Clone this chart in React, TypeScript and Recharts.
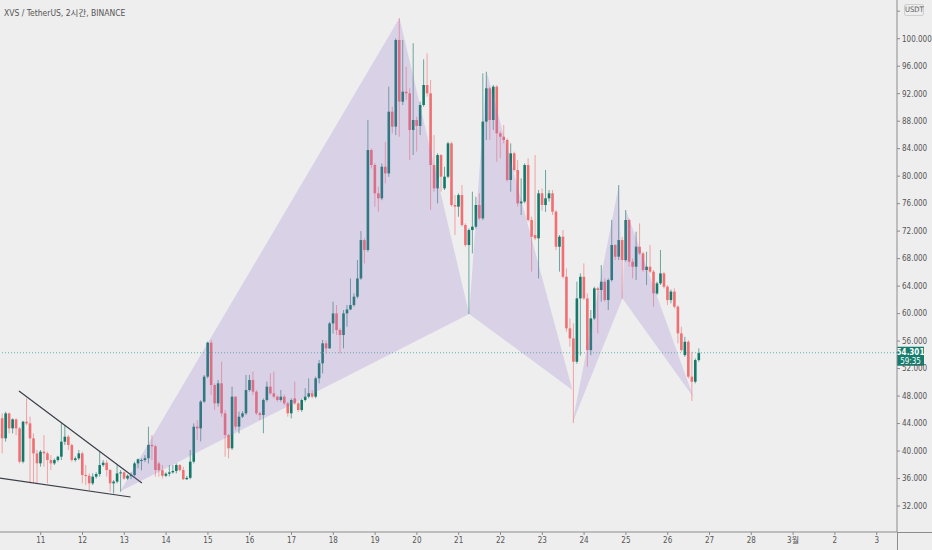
import React from "react";
import { ComposedChart, Bar, Scatter, XAxis, YAxis, ReferenceLine } from "recharts";

// XVS / USDT, 2h candles starting Feb 10 00:00 (12 per day)
const opens = [
  43.3, 44.76, 41.85, 45.48, 43.3, 44.61, 43.3, 38.45, 44.27, 44.03, 41.85, 39.66,
  38.21, 39.91, 39.66, 38.69, 38.21, 38.69, 39.18, 41.36, 42.09, 40.88, 38.69, 38.93,
  39.66, 36.51, 36.4, 35.3, 36.27, 36.65, 37.96, 38.3, 37.24, 35.3, 35.55, 36.75,
  36.9, 36.0, 36.4, 36.5, 38.2, 38.6, 38.7, 38.95, 40.9, 40.7, 38.2, 37.2,
  36.4, 36.7, 36.9, 37.1, 37.96, 37.24, 35.9, 36.1, 38.45, 43.55, 43.3, 47.19,
  50.82, 55.77, 49.61, 46.94, 49.85, 45.49, 42.33, 40.4, 47.91, 43.55, 45.0, 45.49,
  48.88, 50.34, 48.64, 45.49, 45.24, 47.43, 49.37, 48.4, 47.91, 47.43, 47.91, 46.94,
  45.49, 47.67, 46.94, 45.97, 47.43, 47.91, 48.4, 47.91, 50.58, 52.76, 55.67, 54.94,
  58.57, 60.03, 57.6, 56.88, 60.03, 60.6, 61.24, 62.46, 65.12, 70.7, 69.25, 83.8,
  81.62, 77.5, 76.77, 81.37, 80.4, 89.38, 87.2, 99.81, 90.84, 92.29, 92.05, 86.71,
  88.17, 87.3, 90.35, 93.26, 92.05, 81.62, 78.22, 83.07, 78.22, 79.92, 84.77, 75.8,
  75.56, 77.25, 72.89, 69.98, 72.16, 72.65, 75.8, 73.86, 87.93, 92.78, 88.17, 93.02,
  86.23, 85.74, 85.26, 79.44, 83.32, 80.89, 76.04, 76.3, 81.62, 73.62, 71.43, 70.95,
  77.5, 75.8, 76.77, 77.5, 74.83, 69.73, 71.19, 65.36, 57.85, 56.39, 53.0, 62.21,
  65.36, 62.21, 54.69, 59.3, 63.67, 63.43, 64.64, 61.97, 64.88, 69.98, 68.28, 70.7,
  67.79, 73.62, 67.55, 66.82, 69.73, 68.76, 66.34, 66.82, 66.1, 62.94, 64.4, 65.85,
  63.91, 61.97, 63.2, 61.0, 57.12, 53.96, 55.9, 50.82, 50.09, 53.24,
];

const highs = [
  45.2, 45.48, 45.73, 45.6, 44.76, 44.76, 43.5, 44.4, 47.67, 45.0, 42.57, 40.15,
  40.15, 42.33, 39.91, 39.42, 38.93, 39.3, 44.03, 43.78, 42.33, 41.1, 39.2, 40.15,
  39.91, 37.96, 36.75, 36.75, 36.9, 39.91, 38.69, 38.69, 37.4, 35.78, 37.96, 37.24,
  37.0, 36.6, 36.9, 38.45, 38.93, 38.93, 39.4, 43.54, 42.33, 40.9, 38.45, 37.96,
  36.9, 37.96, 37.96, 38.21, 38.1, 37.72, 36.4, 40.15, 44.03, 44.5, 47.4, 51.06,
  55.92, 56.16, 49.85, 50.34, 53.01, 45.97, 42.5, 49.37, 47.95, 45.73, 45.8, 51.07,
  51.07, 51.55, 48.88, 45.73, 47.67, 50.1, 51.3, 51.55, 48.1, 48.88, 48.2, 47.19,
  47.67, 50.1, 47.2, 47.6, 49.13, 50.58, 48.88, 50.82, 53.25, 56.16, 56.1, 58.8,
  61.73, 61.24, 57.85, 60.52, 61.24, 65.12, 62.94, 67.79, 72.0, 70.94, 88.17, 84.0,
  81.86, 78.46, 81.86, 85.0, 93.02, 90.1, 100.05, 103.0, 99.81, 95.93, 92.78, 99.33,
  88.65, 90.84, 97.0, 97.87, 93.99, 85.98, 83.32, 83.2, 81.38, 85.0, 85.0, 77.25,
  77.5, 78.7, 73.13, 72.4, 77.74, 77.0, 77.5, 94.96, 95.2, 93.02, 93.26, 93.26,
  86.5, 87.44, 85.5, 84.77, 83.56, 82.35, 79.68, 81.86, 82.59, 74.1, 83.07, 77.98,
  78.2, 80.9, 77.98, 77.98, 75.07, 71.43, 72.16, 66.58, 59.3, 58.6, 64.64, 65.85,
  67.3, 62.94, 60.52, 63.91, 63.91, 67.06, 65.12, 65.12, 73.62, 70.1, 78.7, 71.19,
  75.07, 73.8, 68.04, 71.92, 73.13, 69.0, 69.0, 69.98, 66.34, 64.64, 69.25, 66.1,
  64.16, 63.5, 63.67, 61.24, 58.09, 56.63, 56.15, 54.45, 53.48, 54.94,
];

const lows = [
  42.6, 39.66, 41.36, 42.57, 42.57, 42.33, 38.2, 38.2, 43.8, 35.3, 35.3, 35.3,
  37.72, 37.72, 35.3, 37.24, 37.96, 38.45, 38.69, 40.88, 40.15, 38.45, 38.45, 38.69,
  35.3, 35.05, 34.33, 35.05, 36.0, 36.27, 37.72, 36.27, 34.08, 33.84, 35.3, 34.08,
  35.8, 35.8, 35.9, 36.27, 37.5, 37.2, 38.4, 38.2, 38.7, 36.27, 36.27, 36.0,
  36.2, 36.3, 36.7, 36.75, 37.0, 35.78, 35.78, 35.9, 38.2, 41.6, 41.4, 47.0,
  50.58, 48.16, 45.97, 46.46, 45.0, 39.18, 38.94, 40.15, 43.06, 42.58, 44.8, 45.24,
  48.64, 48.16, 45.24, 44.52, 42.58, 47.19, 48.16, 47.67, 47.2, 47.19, 46.7, 45.0,
  44.76, 46.7, 45.7, 45.7, 47.19, 47.67, 47.67, 47.67, 49.85, 51.31, 54.2, 54.9,
  57.1, 56.88, 54.21, 54.94, 58.09, 60.5, 61.0, 62.2, 64.9, 67.3, 69.0, 81.13,
  75.56, 74.83, 76.5, 78.95, 79.9, 86.23, 85.98, 85.74, 90.35, 91.08, 82.35, 83.07,
  83.56, 85.98, 90.11, 91.56, 75.07, 77.74, 76.04, 77.74, 77.98, 79.7, 75.56, 71.43,
  74.1, 72.64, 69.73, 59.94, 68.76, 72.4, 73.6, 73.6, 85.26, 85.26, 86.71, 82.1,
  82.6, 84.77, 79.2, 77.74, 80.65, 75.56, 74.34, 76.04, 73.37, 66.1, 70.7, 65.12,
  75.0, 74.8, 76.3, 74.34, 69.25, 66.1, 65.1, 57.36, 55.2, 44.07, 52.7, 53.9,
  61.97, 52.27, 53.96, 59.06, 57.1, 61.73, 61.73, 60.52, 64.64, 67.8, 67.79, 62.21,
  67.55, 66.82, 65.12, 64.88, 68.52, 66.1, 64.16, 65.85, 61.0, 62.7, 64.16, 63.67,
  61.24, 61.5, 60.76, 55.67, 54.45, 53.72, 50.58, 47.28, 49.85, 53.0,
];

const closes = [
  44.76, 41.85, 45.48, 43.3, 44.61, 43.3, 38.45, 44.27, 44.03, 41.85, 39.66, 38.21,
  39.91, 39.66, 38.69, 38.21, 38.69, 39.18, 41.36, 42.09, 40.88, 38.69, 38.93, 39.66,
  36.51, 36.4, 35.3, 36.27, 36.65, 37.96, 38.3, 37.24, 35.3, 35.55, 36.75, 36.9,
  36.0, 36.4, 36.5, 38.2, 38.8, 38.7, 38.95, 40.9, 40.7, 37.24, 37.2, 36.4,
  36.7, 36.9, 37.1, 37.96, 37.24, 35.9, 36.1, 38.45, 43.54, 43.3, 47.19, 50.82,
  55.77, 49.61, 46.94, 49.85, 45.49, 42.33, 40.4, 47.91, 43.55, 45.0, 45.49, 48.88,
  50.34, 48.64, 45.49, 45.24, 47.43, 49.37, 48.4, 47.91, 47.43, 47.91, 46.94, 45.49,
  47.43, 46.94, 45.97, 47.43, 47.91, 48.4, 47.91, 50.58, 52.76, 55.67, 54.94, 58.57,
  60.03, 57.6, 56.88, 60.03, 60.6, 61.24, 62.46, 65.12, 70.7, 69.25, 83.8, 81.62,
  77.5, 76.77, 81.37, 80.4, 89.38, 87.2, 99.81, 90.84, 92.29, 92.05, 86.71, 88.17,
  87.3, 90.35, 93.26, 92.05, 81.62, 78.22, 83.07, 79.92, 79.92, 84.77, 75.8, 75.56,
  77.25, 72.89, 69.98, 72.16, 72.65, 75.8, 73.86, 87.93, 92.78, 88.17, 93.02, 86.23,
  85.74, 85.26, 79.44, 83.32, 80.89, 76.04, 76.3, 81.62, 73.62, 71.19, 70.95, 77.5,
  75.8, 76.77, 77.5, 74.83, 69.73, 71.19, 65.36, 57.85, 56.39, 53.0, 62.21, 65.36,
  62.21, 54.69, 59.3, 63.67, 63.43, 64.64, 61.97, 64.88, 69.98, 68.28, 70.7, 67.79,
  73.62, 67.55, 66.82, 69.73, 68.76, 66.34, 66.82, 66.1, 62.94, 64.4, 65.85, 63.91,
  61.97, 63.2, 61.0, 57.12, 54.69, 55.9, 50.82, 50.09, 53.24, 54.3,
];

const dayTicks = [11, 12, 13, 14, 15, 16, 17, 18, 19, 20, 21, 22, 23, 24, 25, 26, 27, 28, 29, 30, 31];
const dayLabels: Record<number, string> = { 29: "3월", 30: "2", 31: "3" };
const priceTicks = [32, 36, 40, 44, 48, 52, 56, 60, 64, 68, 72, 76, 80, 84, 88, 92, 96, 100, 104];

const lastPrice = 54.301;
const countdown = "59:35";

// harmonic pattern points (day, price)
const xabcd1Left = [{ t: 12.9, p: 34.1 }, { t: 19.583, p: 103.0 }, { t: 21.25, p: 59.94 }];
const xabcd1Right = [{ t: 21.25, p: 59.94 }, { t: 21.667, p: 95.2 }, { t: 23.72, p: 48.9 }];
const xabcd2Left = [{ t: 23.72, p: 44.07 }, { t: 24.833, p: 78.7 }, { t: 24.917, p: 62.21 }];
const xabcd2Right = [{ t: 24.917, p: 62.21 }, { t: 25.0, p: 75.07 }, { t: 26.62, p: 47.8 }];

// falling wedge
const wedgeUpper = [{ x: 10.48, y: 48.73 }, { x: 13.42, y: 35.35 }];
const wedgeLower = [{ x: 10.026, y: 36.07 }, { x: 13.15, y: 33.31 }];

const candles = opens.map((o, i) => ({
  t: 10 + i / 12,
  o,
  h: highs[i],
  l: lows[i],
  c: closes[i],
}));

const UP = "#127a6b";
const DOWN = "#ef6f72";
const UP_WICK = "#6aa69d";
const DOWN_WICK = "#f3a1a3";
const FONT = "'Liberation Sans Narrow', 'DejaVu Sans Condensed', 'Noto Sans CJK KR', sans-serif";

function Candle(props: any) {
  const { x, y, width, height, payload } = props;
  if (!payload) return null;
  const { o, h, l, c } = payload;
  const k = h > l ? height / (h - l) : 0;
  const cx = x + width / 2;
  const yOf = (v: number) => y + (h - v) * k;
  const up = c >= o;
  const top = yOf(Math.max(o, c));
  const body = Math.max(yOf(Math.min(o, c)) - top, 1);
  return (
    <g>
      <line x1={cx} x2={cx} y1={y} y2={y + height} stroke={up ? UP_WICK : DOWN_WICK} strokeWidth={1} />
      <rect x={cx - 1.3} y={top} width={2.6} height={body} fill={up ? UP : DOWN} />
    </g>
  );
}

const patternFill = (props: any) => {
  const pts = (props.points || []).map((pt: any) => `${pt.x},${pt.y}`).join(" ");
  return <polygon points={pts} fill="#9575cd" fillOpacity={0.24} stroke="none" />;
};

const noDot = () => <g />;

function PriceTag(props: any) {
  const vb = props.viewBox;
  if (!vb) return null;
  const x = vb.x + vb.width;
  const y = vb.y;
  return (
    <g>
      <rect x={x} y={y - 6} width={27} height={19} fill="#157d6e" />
      <text x={x + 13.5} y={y + 2.5} textAnchor="middle" fontSize={8} fill="#fff" fontFamily={FONT} fontWeight={600}>
        {lastPrice.toFixed(3)}
      </text>
      <text x={x + 13.5} y={y + 11} textAnchor="middle" fontSize={8} fill="#fff" fontFamily={FONT}>
        {countdown}
      </text>
    </g>
  );
}

export default function App() {
  const tickStyle = { fontSize: 8, fill: "#555", fontFamily: FONT };
  return (
    <div style={{ position: "absolute", left: 0, top: 0, width: 932, height: 550, background: "#eeeeee", overflow: "hidden" }}>
      <ComposedChart width={932} height={550} data={candles} margin={{ top: 0, right: 0, bottom: 0, left: 0 }}>
        <XAxis
          type="number"
          dataKey="t"
          domain={[10.026, 31.486]}
          allowDataOverflow
          ticks={dayTicks}
          interval={0}
          tickFormatter={(v: number) => dayLabels[v] ?? String(v)}
          tickSize={3}
          tick={tickStyle}
          stroke="#8c8c8c"
          height={18}
        />
        <XAxis xAxisId="pat" type="number" dataKey="t" domain={[10.026, 31.486]} allowDataOverflow hide />
        <YAxis
          orientation="right"
          type="number"
          domain={[28.22, 105.63]}
          allowDataOverflow
          ticks={priceTicks}
          interval={0}
          tickFormatter={(v: number) => (v > 100 ? "" : v.toFixed(3))}
          tickSize={3}
          tick={tickStyle}
          stroke="#8c8c8c"
          width={35}
        />
        <Scatter xAxisId="pat" data={xabcd1Left} dataKey="p" line={patternFill} lineType="joint" shape={noDot} isAnimationActive={false} />
        <Scatter xAxisId="pat" data={xabcd1Right} dataKey="p" line={patternFill} lineType="joint" shape={noDot} isAnimationActive={false} />
        <Scatter xAxisId="pat" data={xabcd2Left} dataKey="p" line={patternFill} lineType="joint" shape={noDot} isAnimationActive={false} />
        <Scatter xAxisId="pat" data={xabcd2Right} dataKey="p" line={patternFill} lineType="joint" shape={noDot} isAnimationActive={false} />
        <Bar dataKey={(d: any) => [d.l, d.h]} barSize={3} shape={Candle} isAnimationActive={false} />
        <ReferenceLine xAxisId="pat" segment={wedgeUpper} stroke="#3a3e48" strokeWidth={1.2} ifOverflow="hidden" />
        <ReferenceLine xAxisId="pat" segment={wedgeLower} stroke="#3a3e48" strokeWidth={1.2} ifOverflow="hidden" />
        <ReferenceLine y={lastPrice} stroke="#5fb3a9" strokeDasharray="1 2" label={<PriceTag />} />
      </ComposedChart>
      <div style={{ position: "absolute", left: 897, top: 532, width: 35, height: 1, background: "#8c8c8c" }} />
      <div style={{ position: "absolute", left: 897, top: 532, width: 1, height: 18, background: "#8c8c8c" }} />
      <div style={{ position: "absolute", left: 4, top: 6, fontSize: 8.5, color: "#555", fontFamily: FONT, whiteSpace: "nowrap" }}>
        XVS / TetherUS, 2시간, BINANCE
      </div>
      <div
        style={{
          position: "absolute",
          left: 904,
          top: 4,
          width: 20,
          height: 12,
          boxSizing: "border-box",
          border: "1px solid #cfcfcf",
          borderRadius: 2,
          background: "#eeeeee",
          fontSize: 7.5,
          lineHeight: "10px",
          textAlign: "center",
          color: "#555",
          fontFamily: FONT,
        }}
      >
        USDT
      </div>
    </div>
  );
}
